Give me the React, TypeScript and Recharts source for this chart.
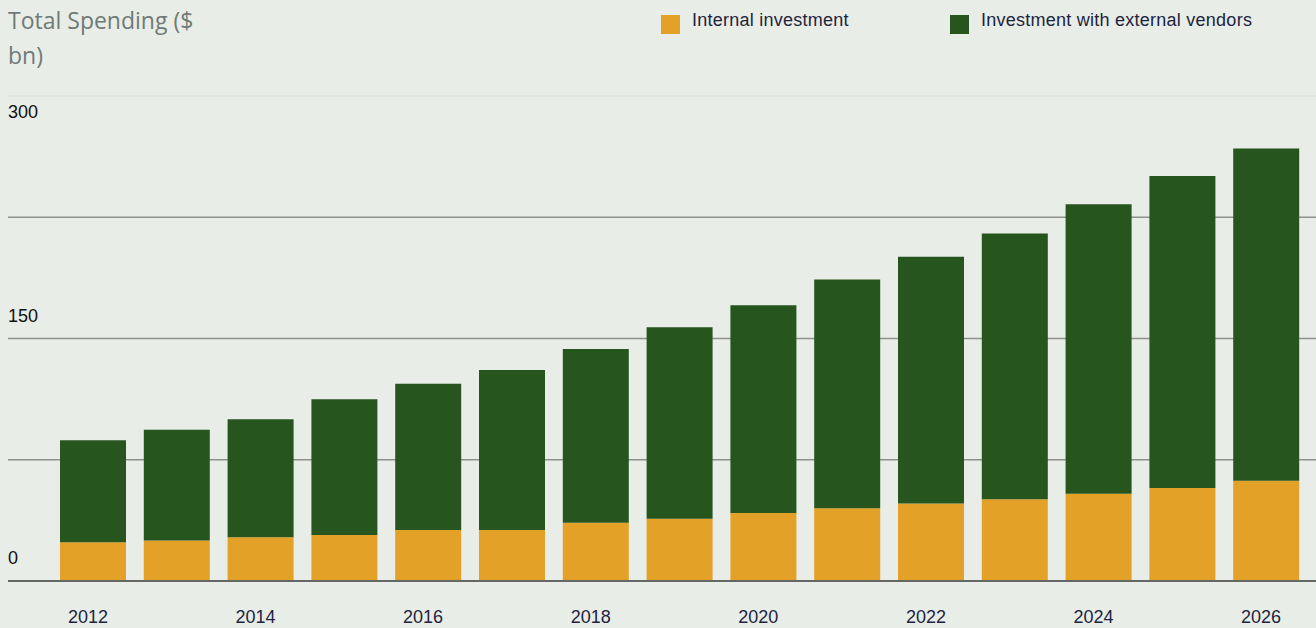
import React from "react";
import { BarChart, Bar, XAxis, YAxis, CartesianGrid, Legend } from "recharts";

const years = ["2012", "2013", "2014", "2015", "2016", "2017", "2018", "2019", "2020", "2021", "2022", "2023", "2024", "2025", "2026"];
const internalInvestment = [24, 25, 27, 28.5, 31.5, 31.5, 36, 38.5, 42, 45, 48, 50.5, 54, 57.5, 62];
const externalInvestment = [63, 68.5, 73, 84, 90.5, 99, 107.5, 118.5, 128.5, 141.5, 152.5, 164.5, 179, 193, 205.5];
const yTicks = [0, 75, 150, 225, 300];
const yLabelled = [0, 150, 300];

const seriesNames = { internal: "Internal investment", external: "Investment with external vendors" };

const data = years.map((year, i) => ({
  year,
  internal: internalInvestment[i],
  external: externalInvestment[i],
}));

const BG = "#e8ede7";
const ORANGE = "#e3a128";
const GREEN = "#26551e";
const TOP = 96;
const LEGEND_H = 40;

const YTick = (props: any) => {
  const { y, payload } = props;
  if (!yLabelled.includes(payload.value)) return null;
  const top = payload.value === 300;
  return (
    <text x={8} y={top ? y + 16 : y - 23} dominantBaseline="central" textAnchor="start"
      fontFamily="'Liberation Sans', Arial, sans-serif" fontSize={18} fill="#111">
      {payload.value}
    </text>
  );
};

const XTick = (props: any) => {
  const { x, y, payload } = props;
  return (
    <text x={x - 5} y={y + 36} dominantBaseline="central" textAnchor="middle"
      fontFamily="'Liberation Sans', Arial, sans-serif" fontSize={18} fill="#1e2440">
      {payload.value}
    </text>
  );
};

const gridLine = (props: any) => {
  const { x1, x2, y1, y2 } = props;
  const isTop = y1 <= TOP + 1;
  return (
    <line key={props.key} x1={x1} x2={x2} y1={y1} y2={y2}
      stroke={isTop ? "#dadfd8" : "#8e918d"} strokeWidth={isTop ? 1 : 1.3} />
  );
};

const LegendContent = (props: any) => {
  const { payload } = props;
  return (
    <div style={{ display: "flex", paddingLeft: 661, height: LEGEND_H }}>
      {(payload || []).map((entry: any) => (
        <div key={entry.value} style={{ width: 289, position: "relative", height: LEGEND_H }}>
          <div style={{ position: "absolute", left: 0, top: 15, width: 19, height: 19, background: entry.color }} />
          <div style={{
            position: "absolute", left: 31, top: 10, lineHeight: "20px", fontSize: 18, letterSpacing: 0.25,
            fontFamily: "'Liberation Sans', Arial, sans-serif", color: "#1e2440", whiteSpace: "nowrap",
          }}>
            {entry.value}
          </div>
        </div>
      ))}
    </div>
  );
};

export default function App() {
  return (
    <div style={{ position: "relative", width: 1316, height: 628, background: BG, overflow: "hidden" }}>
      <style>{`body{margin:0;background:${BG};}`}</style>
      <div style={{
        position: "absolute", left: 8, top: 3, fontFamily: "'Open Sans', sans-serif", fontSize: 23,
        lineHeight: "35px", color: "#6f7a78", zIndex: 2,
      }}>
        Total Spending ($<br />bn)
      </div>
      <BarChart width={1316} height={628} data={data} margin={{ top: TOP - LEGEND_H, right: 0, left: 0, bottom: 0 }}>
        <CartesianGrid vertical={false} horizontal={gridLine} />
        <XAxis dataKey="year" height={47} padding={{ left: 43, right: 8 }} interval={1}
          tickSize={0} tickMargin={0} tickLine={false} axisLine={{ stroke: "#666866", strokeWidth: 2 }} tick={<XTick />} />
        <YAxis width={8} domain={[0, 300]} ticks={yTicks} axisLine={false} tickLine={false}
          tickSize={0} tickMargin={0} tick={<YTick />} />
        <Legend verticalAlign="top" content={<LegendContent />}
          wrapperStyle={{ position: "absolute", top: 0, left: 0, width: 1316, height: LEGEND_H }} />
        <Bar dataKey="internal" name={seriesNames.internal} stackId="a" fill={ORANGE} barSize={66} isAnimationActive={false} />
        <Bar dataKey="external" name={seriesNames.external} stackId="a" fill={GREEN} barSize={66} isAnimationActive={false} />
      </BarChart>
    </div>
  );
}
